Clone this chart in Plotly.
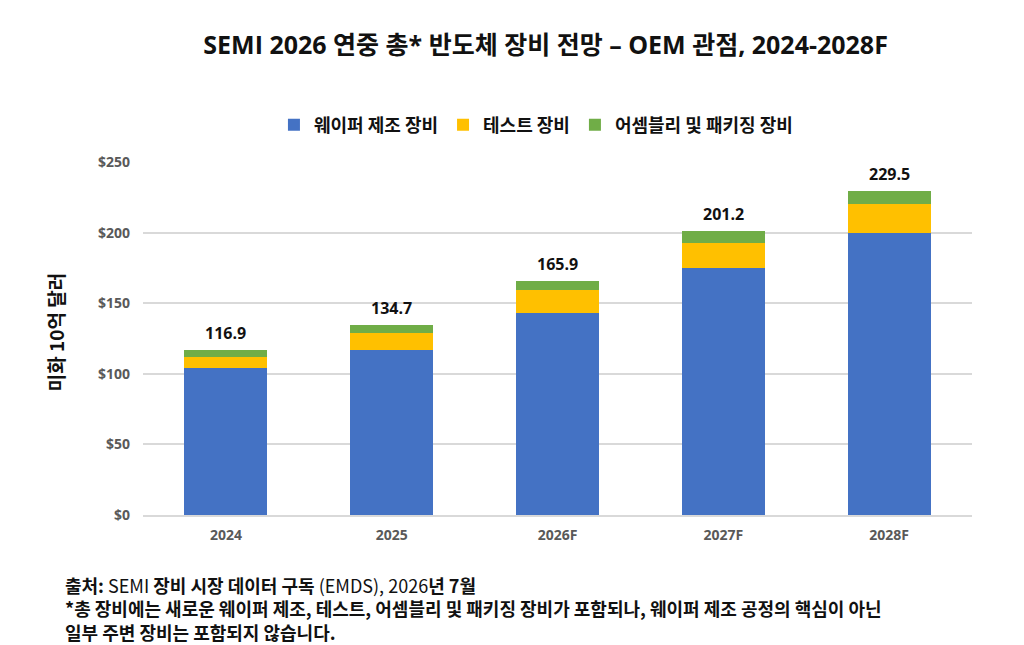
import plotly.graph_objects as go

years = ["2024", "2025", "2026F", "2027F", "2028F"]
wafer_fab = [104.0, 116.6, 143.3, 174.7, 200.0]
test_eq = [7.6, 12.1, 15.8, 18.2, 20.6]
assembly_pkg = [5.3, 6.0, 6.8, 8.3, 8.9]
totals = [116.9, 134.7, 165.9, 201.2, 229.5]
series_names = ["웨이퍼 제조 장비", "테스트 장비", "어셈블리 및 패키징 장비"]
y_ticks = [0, 50, 100, 150, 200, 250]
y_tick_labels = ["$0", "$50", "$100", "$150", "$200", "$250"]

colors = ["#4472C4", "#FFC000", "#70AD47"]
FONT = "Open Sans, Noto Sans CJK KR, sans-serif"
KFONT = "Noto Sans CJK KR, sans-serif"

fig = go.Figure()
for name, vals, c in zip(series_names, [wafer_fab, test_eq, assembly_pkg], colors):
    fig.add_trace(go.Bar(x=years, y=vals, name=f"<b>{name}</b>", marker=dict(color=c, line=dict(width=0)),
                         hoverinfo="skip"))

for i, t in enumerate(totals):
    fig.add_annotation(x=i, y=t, text=f"<b>{t:.1f}</b>", showarrow=False,
                       yshift=17, font=dict(family=FONT, size=16, color="#111111"))

fig.update_layout(
    barmode="stack",
    bargap=0.5,
    width=1024, height=645,
    paper_bgcolor="white", plot_bgcolor="white",
    margin=dict(l=135, r=60, t=154, b=138, autoexpand=False),
    title=dict(text="<b>SEMI 2026 연중 총* 반도체 장비 전망 – OEM 관점, 2024-2028F</b>",
               x=0.525, xanchor="center", y=0.942, yanchor="middle",
               font=dict(family=FONT, size=25, color="#111111")),
    legend=dict(orientation="h", x=0.474, xanchor="center", y=1.105, yanchor="middle",
                font=dict(family=KFONT, size=18, color="#111111"),
                traceorder="normal"),
    showlegend=True,
    font=dict(family=FONT),
)
fig.update_yaxes(range=[0, 250], tickvals=y_ticks, ticktext=[f"<b>{s}</b>" for s in y_tick_labels],
                 showgrid=True, gridcolor="#D9D9D9", gridwidth=1.5, zeroline=False,
                 showline=False, ticks="", ticklen=0, automargin=False, ticklabelstandoff=12,
                 tickfont=dict(family=FONT, size=14, color="#595959"))
fig.update_xaxes(type="category", range=[-0.5, len(years) - 0.5],
                 showline=True, linecolor="#D9D9D9", linewidth=1.5, ticks="",
                 automargin=False, tickangle=0, ticklabelstandoff=6,
                 tickfont=dict(family=FONT, size=14, color="#595959"),
                 ticktext=[f"<b>{y}</b>" for y in years], tickvals=years)

# y-axis title
fig.add_annotation(xref="paper", yref="paper", x=-0.106, y=0.518, xanchor="center", yanchor="middle",
                   text="<b>미화 10억 달러</b>", textangle=-90, showarrow=False,
                   font=dict(family=KFONT, size=19, color="#111111"))

foot = ("<b>출처:</b> SEMI <b>장비 시장 데이터 구독</b> (EMDS), 2026<b>년 7월</b><br>"
        "<b>*총 장비에는 새로운 웨이퍼 제조, 테스트, 어셈블리 및 패키징 장비가 포함되나, 웨이퍼 제조 공정의 핵심이 아닌</b><br>"
        "<b>일부 주변 장비는 포함되지 않습니다.</b>")
fig.add_annotation(xref="paper", yref="paper", x=-0.097, y=-0.265, xanchor="left", yanchor="middle",
                   text=foot, showarrow=False, align="left",
                   font=dict(family=KFONT, size=18, color="#111111"))

fig.write_html("out.html")
